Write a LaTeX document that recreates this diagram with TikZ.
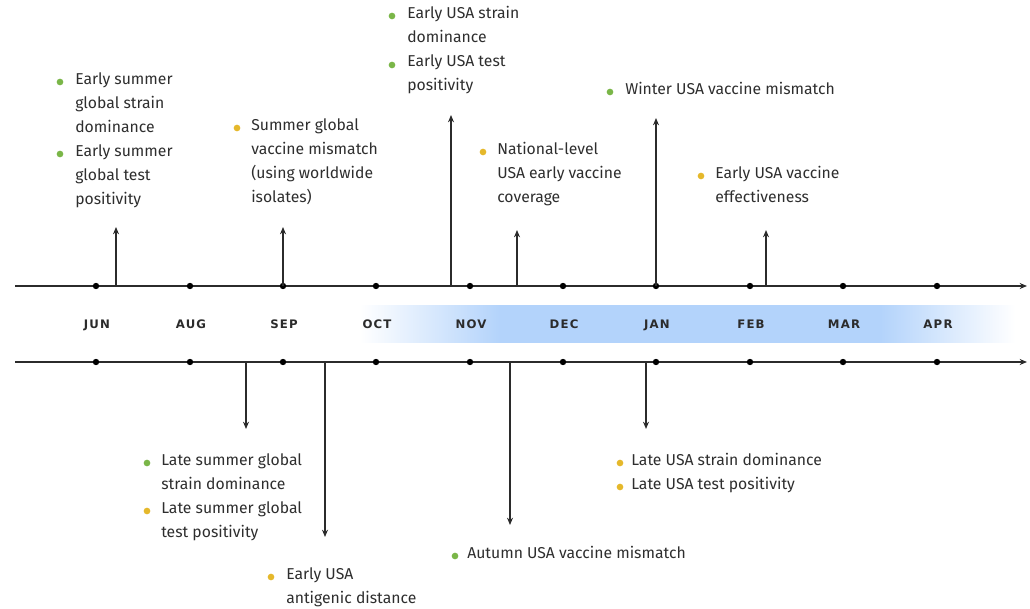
\documentclass[tikz,border=0pt]{standalone}
\usepackage{fontspec}
\setmainfont{Fira Sans}
\newfontfamily\monthfont[LetterSpace=10]{DejaVu Sans}
\usetikzlibrary{arrows.meta}
\definecolor{axisc}{HTML}{2B2B2B}
\definecolor{gbul}{HTML}{7AB648}
\definecolor{ybul}{HTML}{E5B82B}
\definecolor{bandc}{HTML}{B3D3FB}
\definecolor{txt}{HTML}{2E2E2E}
\pgfdeclarehorizontalshading{bandshade}{100bp}{color(0bp)=(white); color(25bp)=(white); color(35.7bp)=(bandc); color(64.7bp)=(bandc); color(75bp)=(white); color(100bp)=(white)}
\begin{document}
\begin{tikzpicture}[x=0.75pt,y=-0.75pt,
  axisline/.style={draw=axisc,line width=1.1pt,-{Stealth[length=5.5pt,width=4.5pt]}},
  mdot/.style={circle,fill=black,inner sep=0pt,minimum size=4.8pt},
  pinarrow/.style={draw=axisc,line width=1pt,-{Stealth[length=5.5pt,width=4.5pt]}},
  month/.style={anchor=base,inner sep=0pt,font=\monthfont\bfseries\fontsize{8.8}{10}\selectfont,text=axisc},
  gb/.style={circle,fill=gbul,inner sep=0pt,minimum size=5pt},
  yb/.style={circle,fill=ybul,inner sep=0pt,minimum size=5pt},
  itemtext/.style={anchor=north west,inner sep=0pt,align=left,font=\fontsize{11.8}{18}\selectfont,text=txt}]
\useasboundingbox (0,0) rectangle (1030,609);
% band
\shade[shading=bandshade] (360,305) rectangle (1015,342);
% axes
\coordinate (tl) at (15,286); \coordinate (tr) at (1027,286);
\coordinate (bl) at (15,362); \coordinate (br) at (1027,362);
\draw[axisline] (tl) -- (tr);
\draw[axisline] (bl) -- (br);
\foreach \x/\m/\n in {96/JUN/1,190/AUG/2,283/SEP/3,376/OCT/4,470/NOV/5,563/DEC/6,656/JAN/7,750/FEB/8,843/MAR/9,937/APR/10}{
  \node[mdot] (t\n) at (\x,286) {};
  \node[mdot] (b\n) at (\x,362) {};
  \node[month] (m\n) at (\x+1,328) {\m};
}
% top arrows
\coordinate (ua1) at (116,286); \coordinate (ue1) at (116,227);
\coordinate (ua2) at (283,286); \coordinate (ue2) at (283,227);
\coordinate (ua3) at (451,286); \coordinate (ue3) at (451,115);
\coordinate (ua4) at (517,286); \coordinate (ue4) at (517,230);
\coordinate (ua5) at (656,286); \coordinate (ue5) at (656,118);
\coordinate (ua6) at (766,286); \coordinate (ue6) at (766,230);
\foreach \i in {1,...,6}{\draw[pinarrow] (ua\i) -- (ue\i);}
% bottom arrows
\coordinate (da1) at (246,362); \coordinate (de1) at (246,429);
\coordinate (da2) at (325,362); \coordinate (de2) at (325,537);
\coordinate (da3) at (510,362); \coordinate (de3) at (510,525);
\coordinate (da4) at (646,362); \coordinate (de4) at (646,429);
\foreach \i in {1,...,4}{\draw[pinarrow] (da\i) -- (de\i);}
% top texts
\node[gb] (g1) at (60,82) {};
\node[gb] (g2) at (60,154) {};
\node[itemtext] (x1) at (75,72) {Early summer\\global strain\\dominance\\Early summer\\global test\\positivity};
\node[yb] (y1) at (237,128) {};
\node[itemtext] (x2) at (251,118) {Summer global\\vaccine mismatch\\(using worldwide\\isolates)};
\node[gb] (g3) at (392,16) {};
\node[gb] (g4) at (392,65) {};
\node[itemtext] (x3) at (407,6) {Early USA strain\\dominance\\Early USA test\\positivity};
\node[yb] (y2) at (483,152) {};
\node[itemtext] (x4) at (497,142) {National-level\\USA early vaccine\\coverage};
\node[gb] (g5) at (610,92) {};
\node[itemtext] (x5) at (625,82) {Winter USA vaccine mismatch};
\node[yb] (y3) at (701,176) {};
\node[itemtext] (x6) at (715,166) {Early USA vaccine\\effectiveness};
% bottom texts
\node[gb] (g6) at (147,463) {};
\node[yb] (y4) at (147,511) {};
\node[itemtext] (x7) at (161,453) {Late summer global\\strain dominance\\Late summer global\\test positivity};
\node[yb] (y5) at (271,577) {};
\node[itemtext] (x8) at (286,567) {Early USA\\antigenic distance};
\node[gb] (g7) at (455,556) {};
\node[itemtext] (x9) at (467,546) {Autumn USA vaccine mismatch};
\node[yb] (y6) at (620,463) {};
\node[yb] (y7) at (620,487) {};
\node[itemtext] (x10) at (631,453) {Late USA strain dominance\\Late USA test positivity};
\end{tikzpicture}
\end{document}
